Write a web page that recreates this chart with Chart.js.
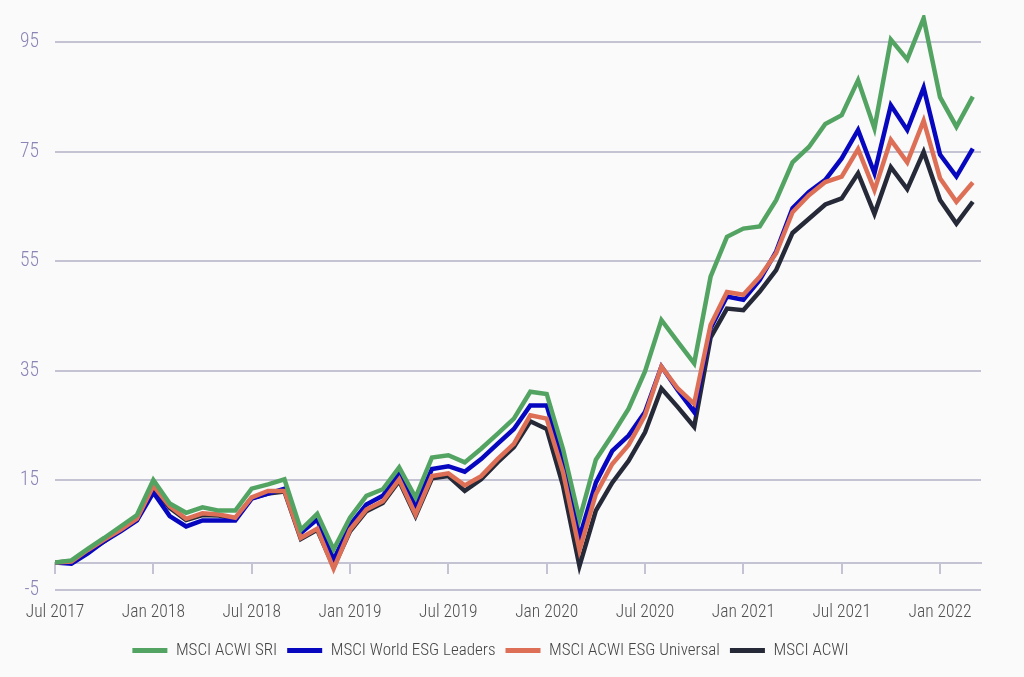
<!DOCTYPE html>
<html>
<head>
<meta charset="utf-8">
<script src="https://cdn.jsdelivr.net/npm/chart.js@4/dist/chart.umd.min.js"></script>
<style>
  html, body { margin: 0; padding: 0; background: #fafafb; }
  #wrap { width: 1024px; height: 677px; position: relative; }
</style>
</head>
<body>
<div id="wrap"><canvas id="c" width="1024" height="677"></canvas></div>
<script>
const months = [
  'Jul 2017','Aug 2017','Sep 2017','Oct 2017','Nov 2017','Dec 2017',
  'Jan 2018','Feb 2018','Mar 2018','Apr 2018','May 2018','Jun 2018',
  'Jul 2018','Aug 2018','Sep 2018','Oct 2018','Nov 2018','Dec 2018',
  'Jan 2019','Feb 2019','Mar 2019','Apr 2019','May 2019','Jun 2019',
  'Jul 2019','Aug 2019','Sep 2019','Oct 2019','Nov 2019','Dec 2019',
  'Jan 2020','Feb 2020','Mar 2020','Apr 2020','May 2020','Jun 2020',
  'Jul 2020','Aug 2020','Sep 2020','Oct 2020','Nov 2020','Dec 2020',
  'Jan 2021','Feb 2021','Mar 2021','Apr 2021','May 2021','Jun 2021',
  'Jul 2021','Aug 2021','Sep 2021','Oct 2021','Nov 2021','Dec 2021',
  'Jan 2022','Feb 2022','Mar 2022'
];
const xTickLabels = ['Jul 2017','Jan 2018','Jul 2018','Jan 2019','Jul 2019','Jan 2020','Jul 2020','Jan 2021','Jul 2021','Jan 2022'];
const yTickValues = [-5, 15, 35, 55, 75, 95];

const seriesNames = ['MSCI ACWI SRI','MSCI World ESG Leaders','MSCI ACWI ESG Universal','MSCI ACWI'];

const acwiSri = [0,0.4,2.5,4.5,6.6,8.7,15.1,10.8,9.1,10.1,9.5,9.5,13.5,14.3,15.2,6.0,8.9,2.4,
  8.2,12.2,13.4,17.4,11.9,19.2,19.6,18.3,20.8,23.5,26.3,31.2,30.8,20.7,7.9,18.8,23.3,28.1,
  34.9,44.3,40.3,36.4,52.2,59.5,61.0,61.4,66.2,73.1,75.9,80.1,81.7,88.1,79.3,95.5,91.9,99.4,85.0,79.6,85.1];
const worldEsgLeaders = [0,-0.2,1.7,3.9,5.7,7.7,12.8,8.5,6.6,7.7,7.7,7.7,11.7,12.6,13.5,5.4,7.9,0.5,
  6.9,10.6,12.2,16.3,10.3,17.1,17.6,16.6,18.9,21.7,24.4,28.7,28.7,18.6,4.6,14.6,20.4,23.2,
  27.5,35.8,31.5,27.5,42.8,48.6,48.0,51.6,56.8,64.7,67.7,69.9,73.8,79.0,71.1,83.5,79.0,86.7,74.5,70.5,75.6];
const acwiEsgUniversal = [0,0.2,2.3,4.2,6.0,8.0,14.0,10.3,8.0,9.0,8.8,8.2,11.9,13.1,13.1,4.5,6.2,-1.1,
  6.0,9.7,11.2,15.2,8.8,15.8,16.3,14.1,15.8,18.9,21.7,26.9,26.3,16.5,2.3,12.5,18.0,21.5,
  26.9,35.8,31.8,29.0,43.4,49.4,48.9,52.2,56.5,64.0,67.1,69.5,70.5,75.5,68.0,77.2,73.1,80.7,70.2,65.9,69.4];
const acwi = [0,0.2,2.0,3.9,6.0,7.8,13.7,10.0,7.8,8.7,8.6,8.0,11.8,12.6,13.0,4.3,6.0,-0.8,
  5.7,9.4,10.9,14.9,8.5,15.4,15.8,13.1,15.2,18.3,21.1,25.8,24.4,14.0,-0.6,9.5,14.6,18.6,
  23.8,31.8,28.4,24.8,41.1,46.4,46.1,49.5,53.4,60.2,62.8,65.4,66.5,71.1,63.7,72.2,68.2,75.0,66.2,61.9,65.9];

const colors = ['#53a462', '#0707bf', '#de6f57', '#262937'];
const drawOrder = [0, 2, 1, 3];
const allSeries = [acwiSri, worldEsgLeaders, acwiEsgUniversal, acwi];

const FONT = '"Roboto Condensed", Roboto, "Liberation Sans", sans-serif';
const gridColor = '#c4c3d3';

const datasets = allSeries.map((vals, k) => ({
  label: seriesNames[k],
  data: vals.map((v, i) => ({ x: i, y: v })),
  borderColor: colors[k],
  backgroundColor: colors[k],
  borderWidth: 4.5,
  pointRadius: 0,
  pointHoverRadius: 0,
  tension: 0,
  fill: false,
  order: drawOrder[k]
}));

const bgPlugin = {
  id: 'bg',
  beforeDraw(chart) {
    const ctx = chart.ctx;
    ctx.save();
    ctx.fillStyle = '#fafafb';
    ctx.fillRect(0, 0, chart.width, chart.height);
    ctx.restore();
  }
};

const xTickVals = xTickLabels.map(l => months.indexOf(l));

new Chart(document.getElementById('c'), {
  type: 'line',
  data: { datasets },
  plugins: [bgPlugin],
  options: {
    responsive: false,
    animation: false,
    devicePixelRatio: 1,
    layout: { padding: { left: 0, right: 43, top: 15, bottom: 8 } },
    plugins: {
      tooltip: { enabled: false },
      legend: {
        position: 'bottom',
        labels: {
          font: { family: FONT, size: 17, weight: 300 },
          color: '#444444',
          boxWidth: 35,
          boxHeight: 5,
          padding: 10,
          sort: (a, b) => a.datasetIndex - b.datasetIndex,
          generateLabels(chart) {
            const items = Chart.defaults.plugins.legend.labels.generateLabels(chart);
            items.forEach(it => { it.fillStyle = it.strokeStyle; it.lineWidth = 0; });
            return items;
          }
        }
      }
    },
    scales: {
      x: {
        type: 'linear',
        position: 'bottom',
        min: 0,
        max: 56.5,
        afterBuildTicks(scale) { scale.ticks = xTickVals.map(v => ({ value: v })); },
        afterFit(scale) { scale.height = 42; },
        ticks: {
          autoSkip: false,
          maxRotation: 0,
          padding: 12,
          color: '#505050',
          font: { family: FONT, size: 17.5, weight: 300 },
          callback: (v) => months[v]
        },
        grid: { display: false, drawTicks: false },
        border: { display: false }
      },
      x0: {
        type: 'linear',
        position: { y: 0 },
        min: 0,
        max: 56.5,
        afterBuildTicks(scale) { scale.ticks = xTickVals.map(v => ({ value: v })); },
        ticks: { display: false },
        grid: { drawOnChartArea: false, drawTicks: true, tickLength: 10, color: gridColor, lineWidth: 2 },
        border: { display: true, color: gridColor, width: 2 }
      },
      y: {
        min: -5,
        max: 100,
        afterBuildTicks(scale) { scale.ticks = yTickValues.map(v => ({ value: v })); },
        afterFit(scale) { scale.width = 55; scale.paddingTop = 0; scale.paddingBottom = 0; },
        ticks: {
          padding: 16,
          color: '#8a85b5',
          font: { family: FONT, size: 19.5, weight: 300 }
        },
        grid: { color: gridColor, lineWidth: 2, drawTicks: false },
        border: { display: false }
      }
    }
  }
});
</script>
</body>
</html>
